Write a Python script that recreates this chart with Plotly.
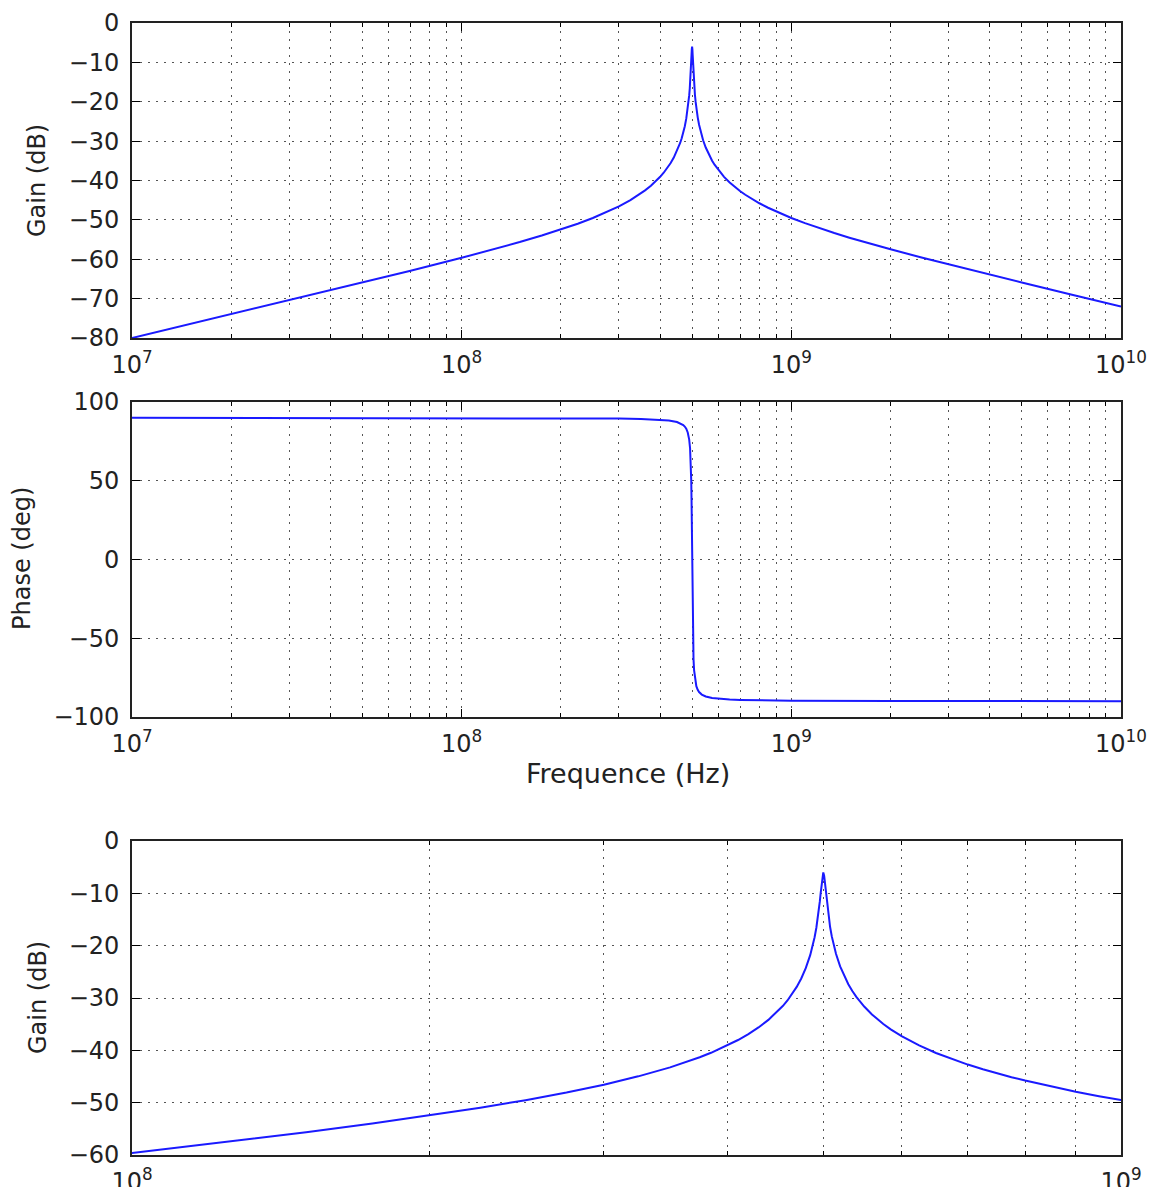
import plotly.graph_objects as go

# ---------------- data ----------------
freq_gain = [1e7, 2e7, 3e7, 5e7, 7e7, 1e8, 1.25e8, 1.5e8, 1.75e8, 2e8, 2.25e8, 2.5e8,
             2.75e8, 3e8, 3.25e8, 3.5e8, 3.6e8, 3.75e8, 3.85e8, 4e8, 4.1e8, 4.2e8,
             4.3e8, 4.4e8, 4.5e8, 4.55e8, 4.6e8, 4.65e8, 4.7e8, 4.75e8, 4.8e8, 4.85e8,
             4.875e8, 4.9e8, 4.92e8, 4.93e8, 4.95e8, 4.96e8, 4.97e8, 4.98e8, 4.99e8,
             5e8, 5.01e8, 5.02e8, 5.03e8, 5.04e8, 5.05e8, 5.07e8, 5.08e8, 5.1e8,
             5.125e8, 5.15e8, 5.2e8, 5.25e8, 5.3e8, 5.35e8, 5.4e8, 5.5e8, 5.6e8,
             5.75e8, 5.85e8, 6e8, 6.25e8, 6.5e8, 6.75e8, 7e8, 7.25e8, 7.5e8, 7.75e8,
             8e8, 8.5e8, 9e8, 9.5e8, 1e9, 1.1e9, 1.2e9, 1.35e9, 1.5e9, 1.75e9, 2e9,
             2.5e9, 3e9, 4e9, 5e9, 7e9, 1e10]
gain_db = [-80.0, -73.95, -70.41, -65.91, -62.91, -59.63, -57.48, -55.64, -53.98, -52.45,
           -50.97, -49.52, -48.06, -46.56, -44.97, -43.25, -42.51, -41.32, -40.47, -39.07,
           -38.03, -36.90, -35.63, -34.18, -32.50, -31.54, -30.47, -29.26, -27.88, -26.27,
           -24.30, -21.81, -20.26, -18.39, -16.57, -15.52, -13.03, -11.54, -9.89, -8.15,
           -6.65, -6.0, -6.64, -8.15, -9.86, -11.49, -12.95, -15.41, -16.44, -18.23,
           -20.05, -21.56, -23.96, -25.84, -27.37, -28.66, -29.77, -31.63, -33.14,
           -34.96, -35.98, -37.29, -39.07, -40.50, -41.70, -42.72, -43.62, -44.42, -45.13,
           -45.78, -46.92, -47.90, -48.76, -49.52, -50.84, -51.95, -53.35, -54.52, -56.14,
           -57.48, -59.62, -61.32, -63.93, -65.91, -68.88, -72.0]

freq_phase = [1e7, 1e8, 2e8, 3e8, 3.5e8, 4e8, 4.25e8, 4.5e8, 4.6e8, 4.7e8, 4.75e8, 4.8e8,
              4.85e8, 4.9e8, 4.93e8, 4.95e8, 4.97e8, 4.98e8, 4.99e8, 5e8, 5.01e8, 5.02e8,
              5.03e8, 5.05e8, 5.07e8, 5.1e8, 5.15e8, 5.2e8, 5.25e8, 5.35e8, 5.5e8, 5.75e8,
              6e8, 6.5e8, 7e8, 8e8, 1e9, 2e9, 5e9, 1e10]
phase_deg = [89.99, 89.88, 89.73, 89.46, 89.21, 88.73, 88.25, 87.29, 86.57, 85.38, 84.43,
             83.02, 80.68, 76.13, 70.47, 63.55, 50.28, 38.72, 21.82, 0.0, -21.78, -38.62,
             -50.11, -63.30, -70.22, -75.82, -80.40, -82.74, -84.15, -85.78, -87.00, -87.96,
             -88.44, -88.92, -89.16, -89.45, -89.62, -89.82, -89.94, -89.97]

x_ticks_wide = [1e7, 1e8, 1e9, 1e10]
x_text_wide = ["10<sup>7</sup>", "10<sup>8</sup>", "10<sup>9</sup>", "10<sup>10</sup>"]
x_ticks_zoom = [1e8, 1e9]
x_text_zoom = ["10<sup>8</sup>", "10<sup>9</sup>"]
gain_ticks = [0, -10, -20, -30, -40, -50, -60, -70, -80]
phase_ticks = [100, 50, 0, -50, -100]
gain_zoom_ticks = [0, -10, -20, -30, -40, -50, -60]


def fmt(v):
    return ("\u2212" + str(abs(v))) if v < 0 else str(v)


minor_wide = [m * 10 ** e for e in range(7, 10) for m in range(2, 10)]
minor_zoom = [m * 1e8 for m in range(2, 10)]

W, H = 1154, 1187
x0, x1 = 132 / W, 1121 / W
dom1 = [1 - 338 / H, 1 - 23 / H]
dom2 = [1 - 717 / H, 1 - 402 / H]
dom3 = [1 - 1155 / H, 1 - 841 / H]

FONT = "DejaVu Sans"
LINE = dict(color="#1a1aff", width=2)
GRID = dict(showgrid=True, gridcolor="#555555", griddash="2px,6px", gridwidth=1)

fig = go.Figure()
fig.add_trace(go.Scatter(x=freq_gain, y=gain_db, mode="lines", line=LINE,
                         xaxis="x", yaxis="y", showlegend=False))
fig.add_trace(go.Scatter(x=freq_phase, y=phase_deg, mode="lines", line=LINE,
                         xaxis="x2", yaxis="y2", showlegend=False))
fig.add_trace(go.Scatter(x=freq_gain, y=gain_db, mode="lines", line=LINE,
                         xaxis="x3", yaxis="y3", showlegend=False))


def xaxis(anchor, rng, tv, tt, minor_vals):
    return dict(type="log", range=rng, domain=[x0, x1], anchor=anchor,
                tickmode="array", tickvals=tv, ticktext=tt,
                ticks="inside", ticklen=8, tickwidth=1.2, tickcolor="black",
                showline=True, linecolor="#222222", linewidth=1.8, mirror="allticks",
                tickfont=dict(family=FONT, size=24, color="#222222"),
                ticklabelstandoff=4, ticklabeloverflow="allow",
                zeroline=False, automargin=False,
                minor=dict(tickmode="array", tickvals=minor_vals, ticks="inside",
                           ticklen=4, tickcolor="black", **GRID),
                **GRID)


def yaxis(anchor, dom, rng, tv):
    return dict(range=rng, domain=dom, anchor=anchor,
                tickmode="array", tickvals=tv, ticktext=[fmt(v) for v in tv],
                ticks="inside", ticklen=8, tickwidth=1.2, tickcolor="black",
                showline=True, linecolor="#222222", linewidth=1.8, mirror="allticks",
                tickfont=dict(family=FONT, size=24, color="#222222"),
                ticklabelstandoff=6, zeroline=False, automargin=False,
                **GRID)


fig.update_layout(
    width=W, height=H,
    margin=dict(l=0, r=0, t=0, b=0),
    paper_bgcolor="white", plot_bgcolor="white",
    xaxis=xaxis("y", [7, 10], x_ticks_wide, x_text_wide, minor_wide),
    yaxis=yaxis("x", dom1, [-80, 0], gain_ticks),
    xaxis2=xaxis("y2", [7, 10], x_ticks_wide, x_text_wide, minor_wide),
    yaxis2=yaxis("x2", dom2, [-100, 100], phase_ticks),
    xaxis3=xaxis("y3", [8, 9], x_ticks_zoom, x_text_zoom, minor_zoom),
    yaxis3=yaxis("x3", dom3, [-60, 0], gain_zoom_ticks),
)

lab = dict(family=FONT, size=24, color="#222222")
fig.add_annotation(text="Gain (dB)", xref="paper", yref="paper", x=37 / W, y=1 - 181 / H,
                   textangle=-90, showarrow=False, font=lab, xanchor="center", yanchor="middle")
fig.add_annotation(text="Phase (deg)", xref="paper", yref="paper", x=22 / W, y=1 - 559 / H,
                   textangle=-90, showarrow=False, font=lab, xanchor="center", yanchor="middle")
fig.add_annotation(text="Gain (dB)", xref="paper", yref="paper", x=38 / W, y=1 - 998 / H,
                   textangle=-90, showarrow=False, font=lab, xanchor="center", yanchor="middle")
fig.add_annotation(text="Frequence (Hz)", xref="paper", yref="paper", x=628 / W, y=1 - 773 / H,
                   showarrow=False, font=dict(family=FONT, size=27, color="#222222"),
                   xanchor="center", yanchor="middle")

fig.write_html("out.html", config={"displayModeBar": False},
               post_script="document.body.style.margin='0';")
